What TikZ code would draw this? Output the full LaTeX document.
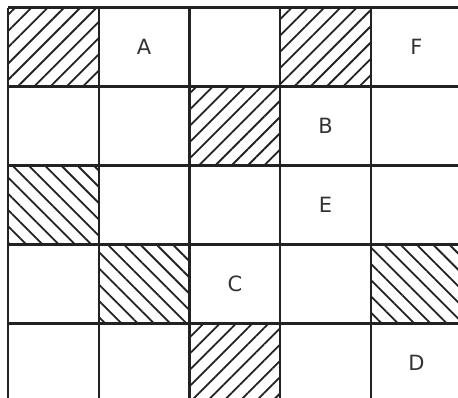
\documentclass[tikz,border=0pt]{standalone}
\usepackage{fontspec}
\setmainfont{DejaVu Sans}
\usepackage{tikz}
\usetikzlibrary{patterns.meta}
\definecolor{GridInk}{RGB}{34,34,34}
\definecolor{LetterInk}{RGB}{51,51,51}

\begin{document}
\begin{tikzpicture}[x=1pt, y=-1pt,
	gridline/.style={line width=2.4pt, GridInk},
	hatchne/.style={pattern={Lines[angle=45, distance=11.5pt, line width=1.8pt]}, pattern color=GridInk},
	hatchnw/.style={pattern={Lines[angle=-45, distance=11.5pt, line width=1.8pt]}, pattern color=GridInk},
	letter/.style={font=\fontsize{21}{25}\selectfont, text=LetterInk}]

	\useasboundingbox (0,0) rectangle (458,397);
	\clip (0,0) rectangle (458,397);

	\begin{scope}[shift={(8,7.5)}, x=90.75pt, y=-79pt]
	% shaded cells
	\fill[hatchne] (0,0) rectangle (1,1);
	\fill[hatchne] (3,0) rectangle (4,1);
	\fill[hatchne] (2,1) rectangle (3,2);
	\fill[hatchne] (2,4) rectangle (3,5);
	\fill[hatchnw] (0,2) rectangle (1,3);
	\fill[hatchnw] (1,3) rectangle (2,4);
	\fill[hatchnw] (4,3) rectangle (5,4);

	% grid
	\foreach \i in {0,...,4} {
		\draw[gridline] (\i,0) -- (\i,5.2);
		\draw[gridline] (0,\i) -- (5.2,\i);
	}

	% letters
	\node[letter] (a) at (1.5,0.5) {A};
	\node[letter] (f) at (4.5,0.5) {F};
	\node[letter] (b) at (3.5,1.5) {B};
	\node[letter] (e) at (3.5,2.5) {E};
	\node[letter] (c) at (2.5,3.5) {C};
	\node[letter] (d) at (4.5,4.5) {D};
	\end{scope}
\end{tikzpicture}
\end{document}
